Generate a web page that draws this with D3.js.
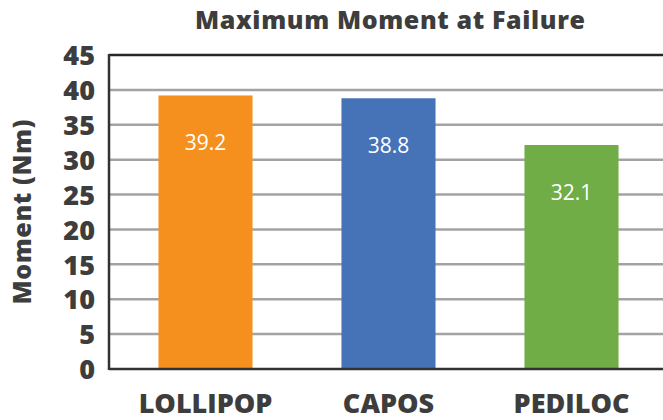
<!DOCTYPE html>
<html><head><meta charset="utf-8">
<script src="https://cdn.jsdelivr.net/npm/d3@7"></script>
<style>body{margin:0;background:#fff}svg{display:block}</style>
</head><body>
<svg id="c" width="663" height="420"></svg>
<script>
const categories = ["LOLLIPOP", "CAPOS", "PEDILOC"];
const values = [39.2, 38.8, 32.1];
const colors = ["#F5901E", "#4672B8", "#70AD47"];
const yTicks = [0, 5, 10, 15, 20, 25, 30, 35, 40, 45];
const title = "Maximum Moment at Failure";
const yTitle = "Moment (Nm)";

const svg = d3.select("#c");
const pLeft = 109, pTop = 55, pBottom = 369, pRight = 663;
const y = d3.scaleLinear().domain([0, 45]).range([pBottom, pTop]);
const x = d3.scaleBand().domain(categories).range([114, pRight]).paddingInner(0.486).paddingOuter(0.243);
const font = "'Open Sans', sans-serif";
const txt = "#3d3d3d";

// gridlines
svg.append("g").selectAll("line").data(yTicks.filter(t => t > 0 && t < 45)).join("line")
  .attr("x1", pLeft).attr("x2", pRight).attr("y1", d => y(d)).attr("y2", d => y(d))
  .attr("stroke", "#a3a3a3").attr("stroke-width", 2.5);
// top border
svg.append("line").attr("x1", pLeft).attr("x2", pRight).attr("y1", y(45)).attr("y2", y(45))
  .attr("stroke", "#262626").attr("stroke-width", 2.5);

// bars
svg.append("g").selectAll("rect").data(values).join("rect")
  .attr("x", (d, i) => x(categories[i])).attr("width", x.bandwidth())
  .attr("y", d => y(d)).attr("height", d => y(0) - y(d))
  .attr("fill", (d, i) => colors[i]);

// axes lines
svg.append("line").attr("x1", pLeft).attr("x2", pLeft).attr("y1", y(45) - 1).attr("y2", pBottom + 1)
  .attr("stroke", "#333").attr("stroke-width", 2.5);
svg.append("line").attr("x1", pLeft).attr("x2", pRight).attr("y1", pBottom).attr("y2", pBottom)
  .attr("stroke", "#333").attr("stroke-width", 2.5);

// value labels
svg.append("g").selectAll("text").data(values).join("text")
  .attr("x", (d, i) => x(categories[i]) + x.bandwidth() / 2)
  .attr("y", d => y(d) + 55)
  .attr("text-anchor", "middle").attr("fill", "#fff")
  .style("font-family", font).style("font-size", "21px")
  .text(d => d.toFixed(1));

// y tick labels
const yAxis = svg.append("g").attr("transform", `translate(${pLeft},0)`)
  .call(d3.axisLeft(y).tickValues(yTicks).tickSize(0).tickPadding(14));
yAxis.select(".domain").remove();
yAxis.selectAll("text").attr("fill", txt).style("font-family", font)
  .style("font-size", "27px").style("font-weight", "800").attr("dy", "0.36em");

// x labels
const xAxis = svg.append("g").attr("transform", `translate(0,${pBottom})`)
  .call(d3.axisBottom(x).tickSize(0).tickPadding(0));
xAxis.select(".domain").remove();
xAxis.selectAll("text").attr("fill", txt).style("font-family", font)
  .attr("y", 44).attr("dy", 0)
  .style("font-size", "27px").style("font-weight", "800");

// title
svg.append("text").attr("x", 390).attr("y", 29).attr("text-anchor", "middle")
  .attr("fill", txt).style("font-family", font).style("font-size", "25px").style("font-weight", "800")
  .attr("textLength", 390).attr("lengthAdjust", "spacing")
  .text(title);

// y title
svg.append("text").attr("transform", "translate(31,212) rotate(-90)").attr("text-anchor", "middle")
  .attr("fill", txt).style("font-family", font).style("font-size", "25px").style("font-weight", "800")
  .attr("textLength", 185).attr("lengthAdjust", "spacing")
  .text(yTitle);
</script>
</body></html>
